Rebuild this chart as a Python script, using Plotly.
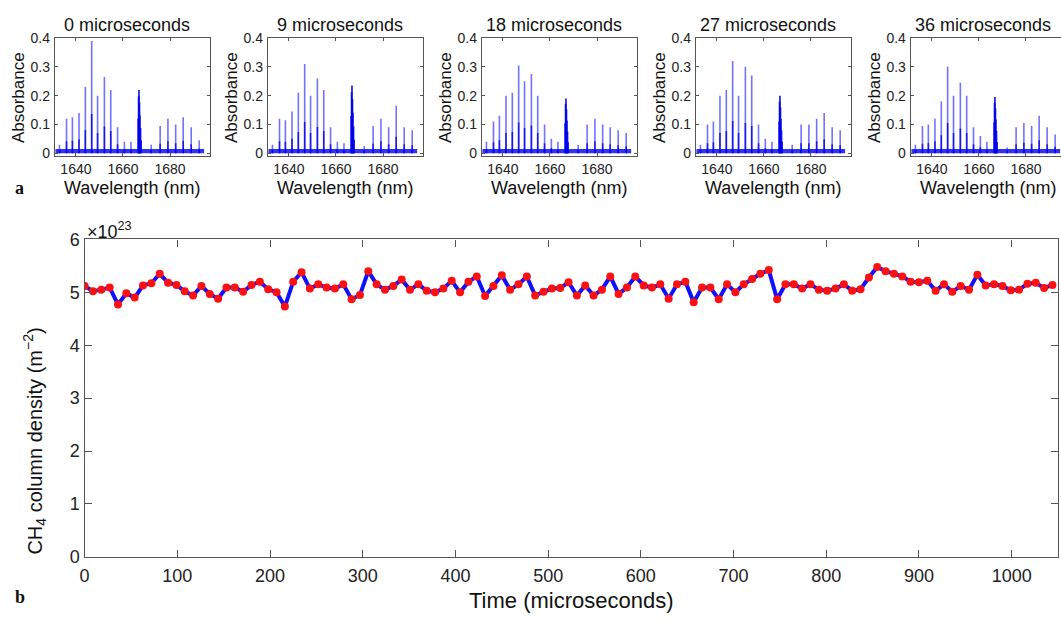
import plotly.graph_objects as go

# ---------------- data ----------------
# panel (a): absorption spectra at five times
panel_titles = ["0 microseconds", "9 microseconds", "18 microseconds",
                "27 microseconds", "36 microseconds"]
line_nm = [1633.0, 1636.0, 1638.5, 1641.3, 1644.0, 1646.7, 1649.2, 1652.1,
           1654.8, 1657.7, 1660.6, 1663.4, 1672.0, 1675.8, 1679.1, 1682.4,
           1685.6, 1689.0, 1692.4]
heights_0 = [0.03, 0.12, 0.125, 0.14, 0.23, 0.39, 0.20, 0.265, 0.22, 0.09,
             0.04, 0.04, 0.03, 0.095, 0.12, 0.10, 0.125, 0.09, 0.045]
heights_9 = [0.03, 0.12, 0.115, 0.145, 0.21, 0.31, 0.20, 0.26, 0.22, 0.09,
             0.04, 0.035, 0.025, 0.095, 0.12, 0.09, 0.165, 0.09, 0.08]
heights_18 = [0.04, 0.11, 0.13, 0.20, 0.21, 0.305, 0.25, 0.275, 0.20, 0.10,
              0.05, 0.04, 0.03, 0.10, 0.12, 0.10, 0.09, 0.08, 0.07]
heights_27 = [0.03, 0.10, 0.11, 0.20, 0.22, 0.32, 0.20, 0.30, 0.27, 0.10,
              0.05, 0.04, 0.03, 0.10, 0.10, 0.12, 0.14, 0.09, 0.08]
heights_36 = [0.03, 0.095, 0.10, 0.12, 0.18, 0.30, 0.20, 0.245, 0.20, 0.09,
              0.06, 0.04, 0.02, 0.09, 0.105, 0.095, 0.13, 0.09, 0.065]
panel_heights = [heights_0, heights_9, heights_18, heights_27, heights_36]
q_branch_nm = 1666.8
q_branch_height = [0.22, 0.235, 0.19, 0.20, 0.195]
q_offsets_nm = [-0.35, -0.15, 0.0, 0.2, 0.4, 0.65, 0.9]
q_relative = [0.55, 0.9, 1.0, 0.8, 0.6, 0.4, 0.2]
baseline_level = 0.015
wl_ticks = [1640, 1660, 1680]
abs_ticks = [0, 0.1, 0.2, 0.3, 0.4]
abs_tick_labels = ["0", "0.1", "0.2", "0.3", "0.4"]

# panel (b): CH4 column density time series (units of 1e23 m^-2)
time_us = [0, 9, 18, 27, 36, 45, 54, 63, 72, 81,
           90, 99, 108, 117, 126, 135, 144, 153, 162, 171,
           180, 189, 198, 207, 216, 225, 234, 243, 252, 261,
           270, 279, 288, 297, 306, 315, 324, 333, 342, 351,
           360, 369, 378, 387, 396, 405, 414, 423, 432, 441,
           450, 459, 468, 477, 486, 495, 504, 513, 522, 531,
           540, 549, 558, 567, 576, 585, 594, 603, 612, 621,
           630, 639, 648, 657, 666, 675, 684, 693, 702, 711,
           720, 729, 738, 747, 756, 765, 774, 783, 792, 801,
           810, 819, 828, 837, 846, 855, 864, 873, 882, 891,
           900, 909, 918, 927, 936, 945, 954, 963, 972, 981,
           990, 999, 1008, 1017, 1026, 1035, 1044]
density_e23 = [5.12, 5.02, 5.05, 5.09, 4.77, 4.98, 4.90, 5.13, 5.17, 5.35,
               5.18, 5.14, 5.02, 4.94, 5.12, 4.97, 4.88, 5.09, 5.09, 5.01,
               5.14, 5.20, 5.06, 5.00, 4.73, 5.20, 5.38, 5.07, 5.15, 5.09,
               5.07, 5.15, 4.87, 4.95, 5.40, 5.15, 5.05, 5.12, 5.24, 5.05,
               5.15, 5.03, 5.00, 5.07, 5.22, 5.00, 5.20, 5.30, 4.93, 5.12,
               5.32, 5.05, 5.15, 5.30, 4.94, 5.01, 5.07, 5.08, 5.19, 4.94,
               5.13, 4.94, 5.05, 5.30, 4.97, 5.09, 5.30, 5.13, 5.09, 5.15,
               4.88, 5.15, 5.20, 4.81, 5.09, 5.09, 4.87, 5.15, 5.00, 5.15,
               5.25, 5.35, 5.42, 4.87, 5.15, 5.15, 5.07, 5.15, 5.05, 5.03,
               5.07, 5.15, 5.03, 5.06, 5.28, 5.48, 5.40, 5.35, 5.30, 5.20,
               5.19, 5.22, 5.03, 5.15, 5.01, 5.12, 5.05, 5.33, 5.13, 5.15,
               5.12, 5.04, 5.05, 5.16, 5.18, 5.08, 5.14]
time_ticks = [0, 100, 200, 300, 400, 500, 600, 700, 800, 900, 1000]
density_ticks = [0, 1, 2, 3, 4, 5, 6]

# ---------------- layout helpers ----------------
W, H = 1061, 623
def fx(px):
    return px / W
def fy(py):
    return 1 - py / H

FONT = "Liberation Sans, Arial, Helvetica, sans-serif"
SERIF = "Liberation Serif, Times New Roman, serif"
AXC = "#555555"

def note(x, y, text, size, family=FONT, angle=0, xanchor="center"):
    return dict(x=fx(x), y=fy(y), xref="paper", yref="paper", text=text,
                showarrow=False, textangle=angle, xanchor=xanchor,
                yanchor="middle", font=dict(family=family, size=size, color="#111"))

fig = go.Figure()
annotations = []

panel_left = [50, 264, 479, 694, 910]
panel_w = 156
panel_top, panel_bot = 29, 151
wl_lo, wl_hi = 1631.0, 1697.0

for k in range(5):
    ax = k + 1
    xa = "x" if ax == 1 else f"x{ax}"
    ya = "y" if ax == 1 else f"y{ax}"
    left = panel_left[k]
    right = min(left + panel_w, W)
    frac = (right - left) / panel_w
    hi = wl_lo + (wl_hi - wl_lo) * frac

    # baseline noise band
    fig.add_trace(go.Scatter(x=[wl_lo + 0.3, min(1694.5, hi)], y=[baseline_level, baseline_level],
                             fill="tozeroy", mode="lines", line=dict(width=0),
                             fillcolor="rgba(0,0,235,0.8)", xaxis=xa, yaxis=ya,
                             showlegend=False, hoverinfo="skip"))
    sx, sy = [], []
    for nm, h in zip(line_nm, panel_heights[k]):
        sx += [nm, nm, None]
        sy += [0, h, None]
    fig.add_trace(go.Scatter(x=sx, y=sy, mode="lines",
                             line=dict(color="rgba(20,20,255,0.6)", width=1.6),
                             xaxis=xa, yaxis=ya, showlegend=False, hoverinfo="skip"))
    # darker lower parts of lines
    lx, ly = [], []
    for nm, h in zip(line_nm, panel_heights[k]):
        lx += [nm, nm, None]
        ly += [0, h * 0.35, None]
    fig.add_trace(go.Scatter(x=lx, y=ly, mode="lines",
                             line=dict(color="rgba(0,0,230,0.8)", width=1.6),
                             xaxis=xa, yaxis=ya, showlegend=False, hoverinfo="skip"))
    qx, qy = [], []
    for off, rel in zip(q_offsets_nm, q_relative):
        qx += [q_branch_nm + off, q_branch_nm + off, None]
        qy += [0, q_branch_height[k] * rel, None]
    fig.add_trace(go.Scatter(x=qx, y=qy, mode="lines",
                             line=dict(color="rgba(0,0,235,0.85)", width=1.8),
                             xaxis=xa, yaxis=ya, showlegend=False, hoverinfo="skip"))

    common = dict(showline=True, linecolor=AXC, linewidth=1, ticks="inside",
                  ticklen=3, tickcolor=AXC, showgrid=False, zeroline=False,
                  tickfont=dict(family=FONT, size=14, color="#222"))
    fig.layout[f"xaxis{'' if ax == 1 else ax}"] = dict(
        domain=[fx(left), fx(right)], range=[wl_lo, hi], anchor=ya,
        tickvals=wl_ticks, mirror="ticks", **common)
    fig.layout[f"yaxis{'' if ax == 1 else ax}"] = dict(
        domain=[fy(panel_bot), fy(panel_top)], range=[-0.01, 0.4], anchor=xa,
        tickvals=abs_ticks, ticktext=abs_tick_labels, ticklabelstandoff=1,
        mirror=("ticks" if k < 4 else False), **common)

    cx = left + panel_w / 2
    annotations.append(note(cx - 5, 15, panel_titles[k], 18))
    annotations.append(note(left - 37, (panel_top + panel_bot) / 2, "Absorbance", 17, angle=-90))
    annotations.append(note(cx, 184, "Wavelength (nm)", 18))

# main time series
fig.add_trace(go.Scatter(x=time_us, y=density_e23, mode="lines+markers",
                         line=dict(color="#1010ff", width=4),
                         marker=dict(color="#ff1010", size=8),
                         xaxis="x6", yaxis="y6", showlegend=False))

main_left, main_right, main_top, main_bot = 80, 1058, 237, 565
maincommon = dict(showline=True, linecolor=AXC, linewidth=1.3, ticks="inside",
                  ticklen=7, tickcolor=AXC, mirror="ticks", showgrid=False,
                  zeroline=False, tickfont=dict(family=FONT, size=18, color="#222"))
fig.layout["xaxis6"] = dict(domain=[fx(main_left), fx(main_right)], range=[0, 1050],
                            anchor="y6", tickvals=time_ticks, ticklabelstandoff=2,
                            **maincommon)
fig.layout["yaxis6"] = dict(domain=[fy(main_bot), fy(main_top)], range=[0, 6],
                            anchor="x6", tickvals=density_ticks, **maincommon)

annotations += [
    note(80, 228, "×10<sup>23</sup>", 18, xanchor="left"),
    note(30, 445, "CH<sub>4</sub> column density (m<sup>−2</sup>)", 20, angle=-90),
    note((main_left + main_right) / 2, 610, "Time (microseconds)", 22),
    note(15, 184, "<b>a</b>", 18, family=SERIF),
    note(15, 606, "<b>b</b>", 18, family=SERIF),
]

fig.update_layout(width=W, height=H, margin=dict(l=0, r=0, t=0, b=0),
                  paper_bgcolor="white", plot_bgcolor="white",
                  annotations=annotations, showlegend=False)

fig.write_html("out.html", config={"displayModeBar": False},
               post_script="document.body.style.margin='0';document.body.style.overflow='hidden';")
